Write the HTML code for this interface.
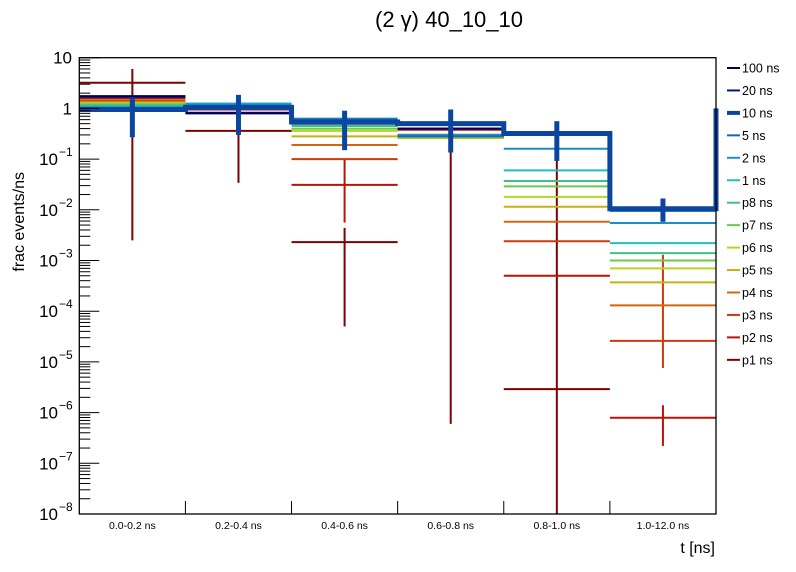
<!DOCTYPE html>
<html><head><meta charset="utf-8">
<style>
html,body{margin:0;padding:0;background:#fff;}
svg{display:block;font-family:"Liberation Sans",sans-serif;}
</style></head>
<body>
<svg id="chart" width="796" height="572" viewBox="0 0 796 572" xmlns="http://www.w3.org/2000/svg">
<text x="449" y="27" font-size="22" text-anchor="middle">(2 γ) 40_10_10</text>
<text transform="translate(24,172) rotate(-90)" font-size="16" text-anchor="end">frac events/ns</text>
<text x="715" y="553" font-size="16" text-anchor="end">t [ns]</text>
<g id="plot"></g>
</svg>
<script>
const categories = ["0.0-0.2 ns","0.2-0.4 ns","0.4-0.6 ns","0.6-0.8 ns","0.8-1.0 ns","1.0-12.0 ns"];
const seriesNames = ["100 ns","20 ns","10 ns","5 ns","2 ns","1 ns","p8 ns","p7 ns","p6 ns","p5 ns","p4 ns","p3 ns","p2 ns","p1 ns"];
const seriesColors = ["#000058","#001a78","#0a46a0","#1468b4","#1a90c8","#22bcc8","#3ec088","#6cc84a","#b0d820","#c8b010","#d06812","#cc3a0e","#bc1208","#800000"];
const v100 = [1.75,0.80,0.50,0.40,0.31,0.0105];
const v20  = [1.70,0.82,0.50,0.40,0.31,0.0105];
const v10  = [0.95,1.05,0.54,0.50,0.32,0.0105];
const v5   = [1.00,1.10,0.60,0.28,0.30,0.0095];
const v2   = [1.05,1.20,0.63,0.30,0.16,0.0055];
const v1   = [1.10,1.25,0.55,0.28,0.06,0.0022];
const vp8  = [1.15,1.20,0.45,0.28,0.037,0.0014];
const vp7  = [1.20,1.20,0.40,0.28,0.029,0.0010];
const vp6  = [1.25,1.20,0.36,0.27,0.018,0.0007];
const vp5  = [1.30,1.10,0.28,0.26,0.0115,0.00037];
const vp4  = [1.35,1.05,0.19,0.26,0.0058,0.00013];
const vp3  = [1.45,1.00,0.10,0.26,0.0024,0.000026];
const vp2  = [1.60,0.95,0.031,0.38,0.0005,7.9e-7];
const vp1  = [3.2,0.36,0.0023,0.30,2.9e-6,null];
const errLo10 = [0.27,0.30,0.15,0.135,0.092,0.0058];
const errHi10 = [1.64,1.85,0.90,0.95,0.56,0.0167];
const errLoP1 = [0.0025,0.034,5e-5,6e-7,1e-9,null];
const errHiP1 = [6,0.37,0.0044,0.9,0.5,null];
const errLoP2 = [null,null,0.0056,null,null,2.2e-7];
const errHiP2 = [null,null,0.10,null,null,1.4e-6];
const errLoP3 = [null,null,null,null,null,7.6e-6];
const errHiP3 = [null,null,null,null,null,0.0013];
const yTickExps = [1,0,-1,-2,-3,-4,-5,-6,-7,-8];
const yTickLabels = ["10","1","10","10","10","10","10","10","10","10"];
const yTickSups = ["","","−1","−2","−3","−4","−5","−6","−7","−8"];

const series = [v100,v20,v10,v5,v2,v1,vp8,vp7,vp6,vp5,vp4,vp3,vp2,vp1];
const NS="http://www.w3.org/2000/svg";
const L=79.3,R=716,T=57.7,B=514;
const dec=(B-T)/9;
function y(v){return T+(1-Math.log10(v))*dec;}
function xl(i){return L+(R-L)/categories.length*i;}
function xc(i){return (xl(i)+xl(i+1))/2;}
const g=document.getElementById('plot');
function mk(tag,attrs,parent){const e=document.createElementNS(NS,tag);for(const k in attrs)e.setAttribute(k,attrs[k]);(parent||g).appendChild(e);return e;}
function clampY(v){return Math.min(B,Math.max(T,y(v)));}

const order=[13,12,11,10,9,8,7,6,5,4,3,1,0,2];
order.forEach(si=>{
  const vals=series[si];
  const grp=mk('g',{});
  
  
  const w = si===2?5:2;
  if(si===2){
    let d='';
    vals.forEach((v,i)=>{d+=(i===0?'M':'L')+xl(i)+','+y(v)+' L'+xl(i+1)+','+y(v)+' ';});
    d+='L'+R+','+y(1.0);
    const p=mk('path',{d:d,fill:'none',stroke:seriesColors[si],'stroke-width':w},grp);
    
    
  } else {
    vals.forEach((v,i)=>{
      if(v===null)return;
      const ln=mk('line',{x1:xl(i),x2:xl(i+1),y1:y(v),y2:y(v),stroke:seriesColors[si],'stroke-width':w},grp);
      
      
    });
  }
  let lo=null,hi=null;
  if(si===2){lo=errLo10;hi=errHi10;}
  if(si===13){lo=errLoP1;hi=errHiP1;}
  if(si===12){lo=errLoP2;hi=errHiP2;}
  if(si===11){lo=errLoP3;hi=errHiP3;}
  if(lo){
    lo.forEach((l,i)=>{
      if(l===null)return;
      const e=mk('line',{x1:xc(i),x2:xc(i),y1:clampY(hi[i]),y2:clampY(l),stroke:seriesColors[si],'stroke-width':si===2?5:2},grp);
      
      
    });
  }
});

const fr=mk('rect',{x:L,y:T,width:R-L,height:B-T,fill:'none',stroke:'#000','stroke-width':1.3});


yTickExps.forEach((e,k)=>{
  const yy=y(Math.pow(10,e));
  mk('line',{x1:L,x2:L+20,y1:yy,y2:yy,stroke:'#000','stroke-width':1});
  if(e>-8){for(let m=2;m<=9;m++){const ym=y(m*Math.pow(10,e-1));mk('line',{x1:L,x2:L+11,y1:ym,y2:ym,stroke:'#000','stroke-width':1});}}
  const t=mk('text',{x:yTickSups[k]?58:72,y:yy+6,'font-size':17,'text-anchor':'end'});
  t.textContent=yTickLabels[k];
  
  
  if(yTickSups[k]){const s=mk('text',{x:59,y:yy-3,'font-size':12});s.textContent=yTickSups[k];}
});
categories.forEach((c,i)=>{
  if(i>0)mk('line',{x1:xl(i),x2:xl(i),y1:B,y2:B-13,stroke:'#000','stroke-width':1});
  const t=mk('text',{x:xc(i),y:B+15,'font-size':10.5,'text-anchor':'middle',fill:'#000'});
  t.textContent=c;
  
  
});
const lg=mk('g',{});


seriesNames.forEach((n,i)=>{
  const yy=68+i*22.45;
  const en=mk('g',{},lg);
  
  
  mk('line',{x1:727,x2:740,y1:yy,y2:yy,stroke:seriesColors[i],'stroke-width':i===2?4:2},en);
  const t=mk('text',{x:742,y:yy+4.5,'font-size':12.5},en);
  t.textContent=n;
});
</script>
</body></html>
